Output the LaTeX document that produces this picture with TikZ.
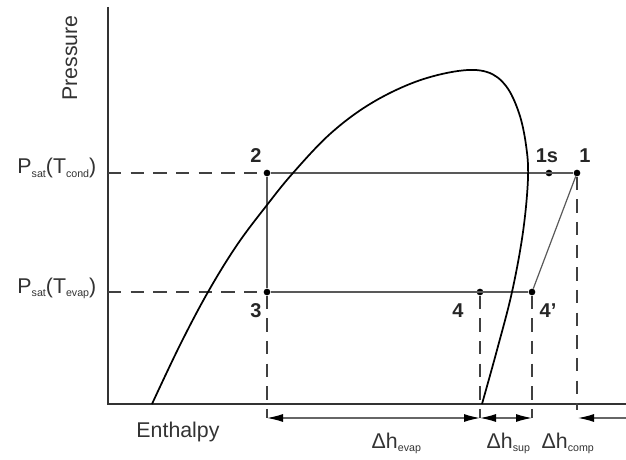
\documentclass[tikz,border=0pt]{standalone}
\usepackage{fontspec}
\setmainfont{Liberation Sans}
\usetikzlibrary{arrows.meta}
\newcommand\lowsub[1]{\raisebox{-0.35ex}{\fontsize{8}{9}\selectfont #1}}
\begin{document}
\begin{tikzpicture}[x=0.75pt,y=-0.75pt,
  axis/.style={line width=1.3pt,draw=black!80},
  cyc/.style={line width=0.9pt,draw=black!65},
  dome/.style={line width=1.3pt,draw=black},
  dsh/.style={line width=0.9pt,draw=black!75,dash pattern=on 10pt off 7pt},
  dot/.style={circle,fill=black,inner sep=0pt,minimum size=5pt},
  num/.style={font=\fontsize{15}{18}\selectfont\bfseries,text=black!85},
  lbl/.style={font=\fontsize{16}{19}\selectfont,text=black!80},
  dim/.style={line width=0.9pt,draw=black!60,{Latex[length=12pt,width=6pt,black]}-{Latex[length=12pt,width=6pt,black]}},
  dimL/.style={line width=0.9pt,draw=black!60,{Latex[length=12pt,width=6pt,black]}-}
]
\useasboundingbox (0,0) rectangle (626,460);
% axes
\coordinate (ytop) at (108,7);
\coordinate (orig) at (108,404);
\coordinate (xend) at (626,404);
\draw[axis] (ytop) -- (orig) -- (xend);
% state points
\node[dot] (p2) at (267,173) {};
\node[dot] (p3) at (267,292) {};
\node[dot] (p1s) at (549,173) {};
\node[dot] (p1) at (577,173) {};
\node[dot] (p4) at (480,292) {};
\node[dot] (p4p) at (532,292) {};
% axis anchors for dashed lines
\coordinate (ac) at (108,173);
\coordinate (ae) at (108,292);
\draw[dsh] (ac) -- (p2);
\draw[dsh] (ae) -- (p3);
% cycle
\draw[cyc] (p2) -- (p1);
\draw[cyc] (p2) -- (p3);
\draw[cyc] (p3) -- (p4p);
\draw[cyc] (p4p) -- (p1);
% saturation dome
\draw[dome] plot[smooth,tension=0.6] coordinates {
 (152,404) (180,345) (208,292) (237,245) (267,205) (293,173) (330,134)
 (370,104) (415,82) (458,71) (487,72) (506,86) (519,113) (526,145)
 (528,178) (523,232) (512,292) (497,350) (482,404)};
% dimension ticks
\coordinate (b3) at (267,418);
\coordinate (b4) at (480,418);
\coordinate (b4p) at (532,418);
\coordinate (b1) at (577,410);
\coordinate (c1) at (578,418);
\coordinate (cr) at (630,418);
\draw[dsh] (p3) -- (b3);
\draw[dsh] (p4) -- (b4);
\draw[dsh] (p4p) -- (b4p);
\draw[dsh] (p1) -- (b1);
\draw[dim] (b3) -- (b4);
\draw[dim] (b4) -- (b4p);
\draw[dimL] (c1) -- (cr);
% labels
\node[lbl,rotate=90] (lp) at (70,58) {Pressure};
\node[lbl] (le) at (178,432) {Enthalpy};
\node[lbl,anchor=base east] (lc) at (101,174) {P\lowsub{sat}(T\lowsub{cond})};
\node[lbl,anchor=base east] (lv) at (101,293) {P\lowsub{sat}(T\lowsub{evap})};
\node[num] (n2) at (256,156) {2};
\node[num] (n3) at (256,311) {3};
\node[num] (n1s) at (547,156) {1s};
\node[num] (n1) at (585,156) {1};
\node[num] (n4) at (458,311) {4};
\node[num] (n4p) at (548,311) {4'};
\node[lbl,anchor=base west] (de) at (367,448) {Δh\lowsub{evap}};
\node[lbl,anchor=base west] (ds) at (482,448) {Δh\lowsub{sup}};
\node[lbl,anchor=base west] (dc) at (537,448) {Δh\lowsub{comp}};
\end{tikzpicture}
\end{document}
